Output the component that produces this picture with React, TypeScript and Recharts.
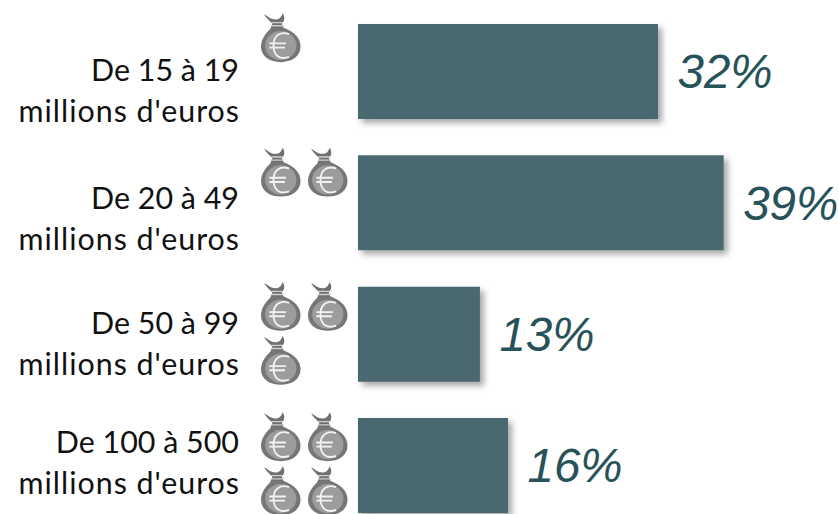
import { Bar, BarChart, LabelList, XAxis, YAxis } from "recharts"

const ranges = ["De 15 à 19", "De 20 à 49", "De 50 à 99", "De 100 à 500"]
const unit = "millions d'euros"
const shares = [32, 39, 13, 16]
const bagCounts = [1, 2, 3, 4]

const rows = ranges.map((range, i) => ({ range, share: shares[i], bags: bagCounts[i] }))

// hand-placed in the original, so each row has its own offset from the band centre
const textOffset = [20, 16, 10, -2]
const bagOffset = [-58, -55, -52, -53]

function MoneyBag({ x, y }: { x: number; y: number }) {
  return (
    <g transform={`translate(${x},${y}) scale(1.04)`} filter="url(#soft)">
      <path d="M3 1 C7 3 9 6 14 6 C18 6 19 4 21 0 C23 4 23 7 20 10 L22 15 L9 15 L11 10 C8 7 5 5 3 1 Z" fill="#6f6f6f" />
      <path d="M10 9 H21 M10 12 H22" stroke="#cfcfcf" strokeWidth={1.3} />
      <path d="M10 14 H22 C32 18 38 24 38 32 C38 42 29 47 19 47 C9 47 0 42 0 32 C0 24 6 18 10 14 Z" fill="#767676" />
      <ellipse cx={19} cy={31} rx={15} ry={14} fill="#9c9c9c" />
      <path d="M27 20 C18 17 12 22 12 31 C12 41 18 45 27 42 M8 29 H24 M8 33 H23" fill="none" stroke="#f2f2f2" strokeWidth={1.8} />
    </g>
  )
}

function RangeTick({ y, index, payload }: any) {
  const i = index ?? 0
  const cy = y + textOffset[i]
  return (
    <g>
      <text x={239} y={cy - 10} textAnchor="end" fontFamily="Lato" fontSize={30.4} fill="#111">
        {payload.value}
      </text>
      <text x={240} y={cy + 31} textAnchor="end" fontFamily="Lato" fontSize={30.4} letterSpacing={1} fill="#111">
        {unit}
      </text>
      {Array.from({ length: bagCounts[i] }, (_, b) => (
        <MoneyBag key={b} x={261 + (b % 2) * 47} y={y + bagOffset[i] + Math.floor(b / 2) * 54} />
      ))}
    </g>
  )
}

export default function App() {
  return (
    <div style={{ position: "absolute", left: 0, top: 0, width: 839, height: 514, overflow: "hidden", background: "#fff" }}>
      <BarChart
        width={839}
        height={540}
        data={rows}
        layout="vertical"
        margin={{ top: 5.6, right: 0, bottom: 9, left: 0 }}
        barCategoryGap={18.4}
      >
        <defs>
          <filter id="soft" x="-10%" y="-10%" width="120%" height="120%">
            <feGaussianBlur stdDeviation={0.7} />
          </filter>
          <filter id="barShadow" x="-5%" y="-10%" width="115%" height="125%">
            <feDropShadow dx={4} dy={4} stdDeviation={3} floodColor="#000" floodOpacity={0.35} />
          </filter>
        </defs>
        <XAxis type="number" domain={[0, 51.3]} hide />
        <YAxis
          type="category"
          dataKey="range"
          width={358}
          axisLine={false}
          tickLine={false}
          interval={0}
          tick={<RangeTick />}
        />
        <Bar dataKey="share" fill="#4a676f" isAnimationActive={false} filter="url(#barShadow)">
          <LabelList
            dataKey="share"
            position="right"
            offset={19.5}
            formatter={(v: any) => `${v}%`}
            fill="#27525a"
            fontFamily="Liberation Sans"
            fontStyle="italic"
            fontSize={47.5}
          />
        </Bar>
      </BarChart>
    </div>
  )
}
